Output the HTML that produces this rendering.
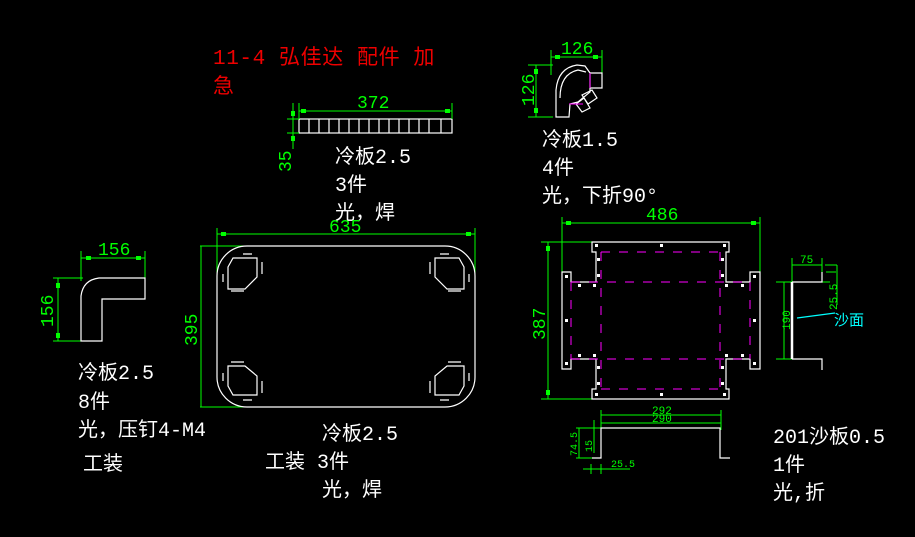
<!DOCTYPE html>
<html><head><meta charset="utf-8"><style>
html,body{margin:0;padding:0;background:#000;width:915px;height:537px;overflow:hidden}
svg{display:block}
text{font-family:"Liberation Mono","Noto Sans CJK SC",monospace}
.w{fill:#fff;font-size:20px}
.g{fill:#0f0;font-size:18px}
</style></head><body>
<svg width="915" height="537" viewBox="0 0 915 537" xmlns="http://www.w3.org/2000/svg">
<rect width="915" height="537" fill="#000"/>
<!-- red title -->
<text x="213" y="64" fill="#e00" style="font-size:21px;letter-spacing:0.6px">11-4 弘佳达 配件 加</text>
<text x="213" y="93" fill="#e00" style="font-size:21px">急</text>

<!-- top strip -->
<g stroke="#fff" fill="none" stroke-width="1.2">
<rect x="299" y="119" width="153" height="14"/>
<path d="M309 119v14M319 119v14M329 119v14M339 119v14M349 119v14M359 119v14M369 119v14M379 119v14M389 119v14M399 119v14M409 119v14M419 119v14M429 119v14M441 119v14"/>
</g>
<g stroke="#0f0" stroke-width="1">
<path d="M299 103v16M452 103v16M299 111h153M287 119h12M287 133h12M293 103v46"/>
</g>
<g fill="#0f0"><rect x="301" y="109" width="5" height="4"/><rect x="445" y="109" width="5" height="4"/><rect x="291" y="111" width="4" height="5"/><rect x="291" y="136" width="4" height="5"/></g>
<text x="357" y="108" class="g">372</text>
<text x="291" y="172" class="g" transform="rotate(-90 291 172)">35</text>

<!-- top right corner piece -->
<g stroke="#0f0" stroke-width="1">
<path d="M551 50v25M602 50v25M551 57h51M528 65h25M528 117h25M536 65v52"/>
</g>
<g fill="#0f0"><rect x="555" y="55" width="5" height="4"/><rect x="593" y="55" width="5" height="4"/><rect x="534" y="69" width="4" height="5"/><rect x="534" y="108" width="4" height="5"/></g>
<text x="561" y="54" class="g">126</text>
<text x="534" y="106" class="g" transform="rotate(-90 534 106)">126</text>
<g stroke="#fff" fill="none" stroke-width="1.2">
<path d="M556 110 L556 90 Q558 68 577 65 L585 66 L590 73 L590 92 L578 102 L570 104 L569 117 L556 117 Z"/>
<path d="M560 98 Q560 74 578 70 L586 72"/>
<path d="M590 73 L602 73 L602 88 L590 88"/>
<path d="M582 95 L592 90 L597 98 L588 104 Z"/>
<path d="M576 104 L584 98 L590 108 L582 112 Z"/>
</g>
<path d="M590 73v15M569 104h14" stroke="#f0f" stroke-width="1"/>

<text x="542" y="146" class="w">冷板1.5</text>
<text x="542" y="174" class="w">4件</text>
<text x="542" y="202" class="w">光，下折90°</text>
<text x="335" y="163" class="w">冷板2.5</text>
<text x="335" y="191" class="w">3件</text>
<text x="335" y="219" class="w">光，焊</text>

<!-- left L piece -->
<g stroke="#0f0" stroke-width="1">
<path d="M81 251v30M145 251v30M81 258h64M53 278h30M53 341h30M58 278v63"/>
</g>
<g fill="#0f0"><rect x="86" y="256" width="5" height="4"/><rect x="136" y="256" width="5" height="4"/><rect x="56" y="283" width="4" height="5"/><rect x="56" y="333" width="4" height="5"/></g>
<text x="98" y="255" class="g">156</text>
<text x="53" y="327" class="g" transform="rotate(-90 53 327)">156</text>
<g stroke="#fff" fill="none" stroke-width="1.2">
<path d="M81 341 L81 296 Q83 280 99 278 L145 278 L145 299 L102 299 L102 341 Z"/>
</g>
<text x="78" y="379" class="w">冷板2.5</text>
<text x="78" y="408" class="w">8件</text>
<text x="78" y="436" class="w">光，压钉4-M4</text>
<text x="83" y="470" class="w">工装</text>

<!-- main plate -->
<g stroke="#0f0" stroke-width="1">
<path d="M217 228v70M475 228v70M217 234h258M200 246h48M200 407h48M201 246v161"/>
</g>
<g fill="#0f0"><rect x="221" y="232" width="5" height="4"/><rect x="466" y="232" width="5" height="4"/></g>
<text x="329" y="232" class="g">635</text>
<text x="197" y="346" class="g" transform="rotate(-90 197 346)">395</text>
<rect x="217" y="246" width="258" height="161" rx="30" fill="none" stroke="#fff" stroke-width="1.2"/>
<g stroke="#fff" fill="none" stroke-width="1.2">
<path d="M233 258 L257 258 L257 277 L245 289 L228 289 L228 267 Z"/>
<path d="M459 258 L435 258 L435 277 L447 289 L464 289 L464 267 Z"/>
<path d="M233 395 L257 395 L257 376 L245 366 L228 366 L228 386 Z"/>
<path d="M459 395 L435 395 L435 376 L447 366 L464 366 L464 386 Z"/>
<path d="M243 254h9M231 291h13M223 274v8M262 262v12M440 254h9M448 291h13M469 274v8M430 262v12M231 362h13M243 400h9M223 373v8M262 381v12M448 362h13M440 400h9M469 373v8M430 381v12"/>
</g>
<text x="322" y="440" class="w">冷板2.5</text>
<text x="265" y="468" class="w">工装 3件</text>
<text x="322" y="496" class="w">光，焊</text>

<!-- right plate -->
<g stroke="#0f0" stroke-width="1">
<path d="M562 217v55M760 217v55M562 223h198M541 242h72M541 399h72M548 242v157"/>
</g>
<g fill="#0f0"><rect x="566" y="221" width="5" height="4"/><rect x="751" y="221" width="5" height="4"/><rect x="546" y="246" width="4" height="5"/><rect x="546" y="390" width="4" height="5"/></g>
<text x="646" y="220" class="g">486</text>
<text x="545" y="340" class="g" transform="rotate(-90 545 340)">387</text>
<g stroke="#fff" fill="none" stroke-width="1.2">
<path d="M592 242 H729 V252 H726 V282 H750 V272 H760 V369 H750 V359 H726 V389 H729 V399 H592 V389 H596 V359 H571 V369 H562 V272 H571 V282 H596 V252 H592 Z"/>
</g>
<g stroke="#f0f" stroke-width="1" stroke-dasharray="9 9">
<path d="M601 252h119M571 282h179M571 359h179M601 389h119M571 282v77M601 252v137M720 252v137M750 282v77"/>
</g>
<g fill="#fff">
<rect x="595" y="244" width="3" height="3"/><rect x="660" y="244" width="3" height="3"/><rect x="723" y="244" width="3" height="3"/>
<rect x="595" y="393" width="3" height="3"/><rect x="660" y="393" width="3" height="3"/><rect x="723" y="393" width="3" height="3"/>
<rect x="565" y="275" width="3" height="3"/><rect x="753" y="275" width="3" height="3"/>
<rect x="565" y="362" width="3" height="3"/><rect x="753" y="362" width="3" height="3"/>
<rect x="565" y="319" width="3" height="3"/><rect x="753" y="319" width="3" height="3"/>
<rect x="597" y="258" width="3" height="3"/><rect x="597" y="274" width="3" height="3"/><rect x="721" y="258" width="3" height="3"/><rect x="721" y="274" width="3" height="3"/>
<rect x="597" y="366" width="3" height="3"/><rect x="597" y="382" width="3" height="3"/><rect x="721" y="366" width="3" height="3"/><rect x="721" y="382" width="3" height="3"/>
<rect x="578" y="284" width="3" height="3"/><rect x="593" y="284" width="3" height="3"/><rect x="725" y="284" width="3" height="3"/><rect x="741" y="284" width="3" height="3"/>
<rect x="578" y="354" width="3" height="3"/><rect x="593" y="354" width="3" height="3"/><rect x="725" y="354" width="3" height="3"/><rect x="741" y="354" width="3" height="3"/>
</g>

<!-- side view -->
<g stroke="#0f0" stroke-width="1">
<path d="M792 258v24M822 258v14M792 265h30M776 282h54M776 359h18M784 282v77M826 272h10M837 265v40M825 265h12"/>
</g>
<text x="800" y="263" class="g" style="font-size:11px">75</text>
<text x="790" y="330" class="g" style="font-size:11px" transform="rotate(-90 790 330)">190</text>
<text x="837" y="310" class="g" style="font-size:11px" transform="rotate(-90 837 310)">25.5</text>
<g stroke="#fff" fill="none">
<path d="M792 282v77" stroke-width="2.5"/>
<path d="M792 282h30v-10M792 359h30v11" stroke-width="1.2"/>
</g>
<path d="M797 318 L835 313" stroke="#0ff" stroke-width="1.2"/>
<text x="834" y="325" fill="#0ff" style="font-size:15px">沙面</text>

<!-- bottom view -->
<g stroke="#0f0" stroke-width="1">
<path d="M601 410v20M721 410v20M601 415h120M601 423h120M576 428h25M576 458h16M579 428v30M594 420v33M583 469h47M591 464v10M601 464v10"/>
</g>
<text x="652" y="414" class="g" style="font-size:11px">292</text>
<text x="652" y="422" class="g" style="font-size:11px">290</text>
<text x="577" y="456" class="g" style="font-size:10px" transform="rotate(-90 577 456)">74.5</text>
<text x="592" y="452" class="g" style="font-size:10px" transform="rotate(-90 592 452)">15</text>
<text x="611" y="467" class="g" style="font-size:10px">25.5</text>
<g stroke="#fff" fill="none" stroke-width="1.2">
<path d="M592 458h9V428h119v30h10"/>
</g>

<text x="773" y="443" class="w">201沙板0.5</text>
<text x="773" y="471" class="w">1件</text>
<text x="773" y="499" class="w">光,折</text>
</svg>
</body></html>
